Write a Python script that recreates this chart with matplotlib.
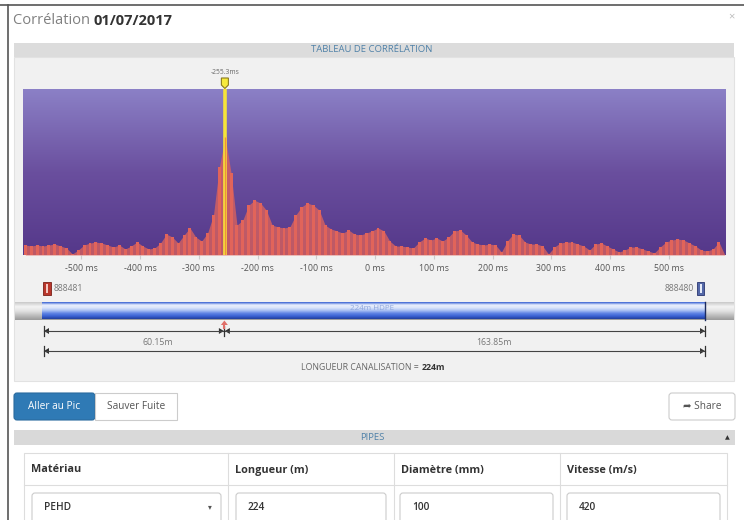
import numpy as np
import matplotlib
matplotlib.use("Agg")
import matplotlib.pyplot as plt
from matplotlib.patches import Rectangle, Polygon, FancyBboxPatch
from matplotlib.colors import LinearSegmentedColormap

plt.rcParams['font.family'] = ['Open Sans', 'DejaVu Sans']

W, H = 744, 520

# correlation amplitude (% of full scale), one value every 10 ms
lags = np.arange(-595, 600, 10)
corr = [6, 5.4, 6, 5.4, 6, 6.6, 5.4, 4.2, 0.6, 3,
        6, 7.2, 7.8, 7.2, 6, 4.8, 6, 3.6, 5.4, 7.8,
        5.4, 3.6, 4.2, 7.2, 12.6, 10.8, 7.2, 12, 16.3, 10.8,
        8.4, 13.2, 24, 53, 71, 49.4, 18, 21, 30, 33,
        31.3, 27, 18, 16.9, 16.3, 16.9, 24, 29, 31.3, 30,
        27, 18, 15.7, 14.5, 13.2, 15, 12.6, 12, 13.2, 14.5,
        16.3, 14.5, 8.4, 5.4, 5.4, 4.8, 4.2, 7.8, 10.2, 9,
        10.2, 8.4, 10.8, 14.5, 15, 12, 7.8, 6.6, 6, 6.6,
        6, 1.8, 8.4, 12.6, 12, 7.8, 6.6, 6.6, 5.4, 0.6,
        4.8, 7.2, 7.8, 7.8, 6.6, 5.4, 3, 6.6, 7.2, 5.4,
        3.6, 1.8, 3, 4.8, 4.8, 3.6, 2.4, 1.2, 4.8, 7.8,
        9, 9.6, 9, 7.2, 5.4, 3, 2.4, 3.6, 7.8, 0]

peak_ms = -255.3
peak_val = 71
tick_ms = [-500, -400, -300, -200, -100, 0, 100, 200, 300, 400, 500]
tick_labels = [f"{t} ms" for t in tick_ms]

sensor_left, sensor_right = "888481", "888480"
pipe_label = "224m HDPE"
dist_left, dist_right = "60.15m", "163.85m"

columns = ["Matériau", "Longueur (m)", "Diamètre (mm)", "Vitesse (m/s)"]
values = ["PEHD", "224", "100", "420"]

BLUE_TXT = "#4f81a8"
CORAL = "#e1645a"

fig = plt.figure(figsize=(W / 100, H / 100), dpi=100)
fig.patch.set_facecolor("white")

# full-figure axes in pixel units for the surrounding interface
ui = fig.add_axes([0, 0, 1, 1])
ui.set_xlim(0, W)
ui.set_ylim(H, 0)
ui.axis("off")
r = fig.canvas.get_renderer()


def rect(x0, y0, x1, y1, **kw):
    ui.add_patch(Rectangle((x0, y0), x1 - x0, y1 - y0, **kw))


def vgrad(x0, y0, x1, y1, colors):
    cm = LinearSegmentedColormap.from_list("g", colors)
    ui.imshow(np.linspace(0, 1, 64).reshape(-1, 1), cmap=cm, aspect="auto",
              extent=(x0, x1, y1, y0), origin="upper", zorder=2, interpolation="bilinear")


def two_part(x, y, a, b, size, ca, cb, align="left"):
    t1 = ui.text(0, y, a, fontsize=size, color=ca, va="center")
    t2 = ui.text(0, y, b, fontsize=size, color=cb, va="center", fontweight="bold")
    w1 = t1.get_window_extent(renderer=r).width
    w2 = t2.get_window_extent(renderer=r).width
    start = x if align == "left" else x - (w1 + w2) / 2
    t1.set_x(start)
    t2.set_x(start + w1)


# modal frame
ui.plot([0, W], [5, 5], color="#555555", lw=1.2)
ui.plot([8, 8], [5, H], color="#555555", lw=1.2)
two_part(13, 21, "Corrélation ", "01/07/2017", 10.5, "#808080", "#333333")
ui.text(731, 17, "×", fontsize=8, color="#bbbbbb", ha="center", va="center")

# correlation panel
rect(14, 43, 734, 57, color="#dcdcdc", lw=0)
ui.text(372, 50, "TABLEAU DE CORRÉLATION", fontsize=6.8, color=BLUE_TXT,
        ha="center", va="center")
rect(14, 57, 734, 381, facecolor="#f1f1f1", edgecolor="#e2e2e2", lw=0.8)

# peak marker above the plot
x_peak = 375 + peak_ms * 0.588
ui.text(x_peak, 72, f"{peak_ms}ms", fontsize=4.8, color="#666666", ha="center", va="center")
ui.add_patch(Polygon([[x_peak - 3.5, 78], [x_peak + 3.5, 78], [x_peak + 3.5, 85],
                      [x_peak, 88.5], [x_peak - 3.5, 85]], closed=True,
                     facecolor="#f6ea3c", edgecolor="#8a7a20", lw=0.8, zorder=5))

# sensors
rect(43, 282, 51, 295, facecolor="#b9372c", edgecolor="#7a2018", lw=0.6)
rect(46, 284, 48, 293, color="#f3c9c3", lw=0)
ui.text(54, 288.5, sensor_left, fontsize=6.2, color="#777777", va="center")
rect(697, 282, 704, 295, facecolor="#5468a8", edgecolor="#2a3670", lw=0.6)
rect(699.5, 284, 701.5, 293, color="#e6ebf8", lw=0)
ui.text(694, 288.5, sensor_right, fontsize=6.2, color="#777777", va="center", ha="right")

# pipe
vgrad(15, 302, 734, 320, ["#c9c9c9", "#f4f4f4", "#e2e2e2", "#bdbdbd", "#9a9a9a"])
vgrad(42, 302, 705, 319, ["#3560d2", "#e9effd", "#dbe5fb", "#a9c0f3", "#5f84e4",
                          "#3a62d4", "#223f9c"])
ui.plot([705, 705], [302, 320], color="#1a2a60", lw=1, zorder=3)
ui.text(372, 309, pipe_label, fontsize=5.8, color="#8ea6dc", ha="center",
        va="center", zorder=4)


def end_mark(x, direction, y):
    ui.plot([x, x], [y - 5, y + 5], color="#333333", lw=0.9)
    base = x - 5 * direction
    ui.add_patch(Polygon([[x, y], [base, y - 3], [base, y + 3]], closed=True,
                         color="#333333", lw=0))


y1, y2 = 331, 351
ui.plot([44, 705], [y1, y1], color="#444444", lw=0.8)
end_mark(44, -1, y1)
end_mark(705, 1, y1)
ui.plot([x_peak - 0.5, x_peak - 0.5], [y1 - 5, y1 + 5], color="#333333", lw=0.9)
ui.add_patch(Polygon([[x_peak - 1, y1], [x_peak - 6, y1 - 3], [x_peak - 6, y1 + 3]],
                     closed=True, color="#333333", lw=0))
ui.add_patch(Polygon([[x_peak, y1], [x_peak + 5, y1 - 3], [x_peak + 5, y1 + 3]],
                     closed=True, color="#333333", lw=0))
ui.add_patch(Polygon([[x_peak - 4, 325], [x_peak + 3, 325], [x_peak - 0.5, 320.5]],
                     closed=True, color="#e0706a", lw=0))
ui.plot([x_peak - 0.5, x_peak - 0.5], [325, 328], color="#e0706a", lw=1.5)
ui.text(158, 342.5, dist_left, fontsize=6.3, color="#777777", ha="center", va="center")
ui.text(494, 342.5, dist_right, fontsize=6.3, color="#777777", ha="center", va="center")

ui.plot([44, 705], [y2, y2], color="#444444", lw=0.8)
end_mark(44, -1, y2)
end_mark(705, 1, y2)
two_part(373, 367, "LONGUEUR CANALISATION = ", "224m", 6.3, "#666666", "#333333",
         align="center")

# buttons
ui.add_patch(FancyBboxPatch((14, 393), 81, 27, boxstyle="round,pad=0,rounding_size=3",
                            facecolor="#2f7ab5", edgecolor="#2a6a9e", lw=0.8))
ui.text(54.5, 406.5, "Aller au Pic", fontsize=7.3, color="white", ha="center", va="center")
rect(95, 393, 177, 420, facecolor="white", edgecolor="#cccccc", lw=0.8)
ui.text(136, 406.5, "Sauver Fuite", fontsize=7.3, color="#555555", ha="center", va="center")
ui.add_patch(FancyBboxPatch((669, 393), 66, 27, boxstyle="round,pad=0,rounding_size=3",
                            facecolor="white", edgecolor="#cccccc", lw=0.8))
ui.text(702, 406.5, "\u27a6 Share", fontsize=7.3, color="#555555", ha="center", va="center")

# pipes table
rect(14, 430, 735, 445, color="#d9d9d9", lw=0)
ui.text(372, 438, "PIPES", fontsize=6.8, color=BLUE_TXT, ha="center", va="center")
ui.text(727, 438, "▲", fontsize=4.5, color="#333333", ha="center", va="center")
rect(24, 453, 727, 530, facecolor="white", edgecolor="#dddddd", lw=0.8)
ui.plot([24, 727], [485, 485], color="#dddddd", lw=0.8)
col_x = [24, 228, 394, 560]
box_x = [(32, 221), (236, 386), (400, 553), (567, 720)]
for i, (name, val) in enumerate(zip(columns, values)):
    if i:
        ui.plot([col_x[i], col_x[i]], [453, H], color="#dddddd", lw=0.8)
    ui.text(col_x[i] + 7, 470, name, fontsize=7.8, color="#333333", fontweight="bold",
            va="center")
    bx0, bx1 = box_x[i]
    ui.add_patch(FancyBboxPatch((bx0, 493), bx1 - bx0, 35,
                                boxstyle="round,pad=0,rounding_size=3",
                                facecolor="white", edgecolor="#cccccc", lw=0.8))
    ui.text(bx0 + 12, 507.5, val, fontsize=7.3, color="#333333", va="center",
            fontweight="semibold")
ui.text(210, 507.5, "▾", fontsize=5.5, color="#555555", ha="center", va="center")

# correlation plot
ax = fig.add_axes([23 / W, 1 - 255 / H, (726 - 23) / W, (255 - 89) / H])
xmin, xmax = -599, 597
bg = LinearSegmentedColormap.from_list("bg", ["#55388a", "#6a4f9e", "#8b80c6"])
ax.imshow(np.linspace(0, 1, 128).reshape(-1, 1), cmap=bg, aspect="auto",
          extent=(xmin, xmax, 0, 100), origin="lower", zorder=0)
ax.fill_between(lags, corr, color=CORAL, alpha=0.75, lw=0, zorder=2)
ax.bar(lags, corr, width=5, color=CORAL, lw=0, zorder=3)
# selected lag: yellow cursor, peak shows through in orange
ax.axvline(peak_ms, color="#f6e43a", lw=2.6, zorder=4)
ax.vlines(peak_ms, 0, peak_val, color="#f0923a", lw=1.0, zorder=4.5)
ax.set_xlim(xmin, xmax)
ax.set_ylim(0, 100)
ax.set_xticks(tick_ms)
ax.set_xticklabels(tick_labels)
ax.tick_params(axis="x", length=3, color="#cccccc", labelsize=6.3, labelcolor="#555555",
               pad=3.5)
ax.set_yticks([])
for s in ax.spines.values():
    s.set_visible(False)

fig.savefig("out.png", dpi=100)
